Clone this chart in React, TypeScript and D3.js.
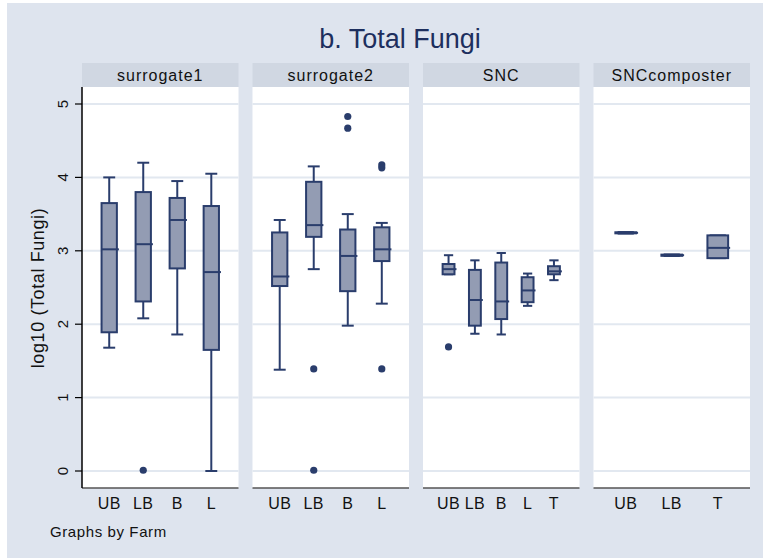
import React from 'react'
import * as d3 from 'd3'

// farms (panels) and groups within each
const farms = ['surrogate1', 'surrogate2', 'SNC', 'SNCcomposter']
const groups = [
  ['UB', 'LB', 'B', 'L'],
  ['UB', 'LB', 'B', 'L'],
  ['UB', 'LB', 'B', 'L', 'T'],
  ['UB', 'LB', 'T'],
]

// box stats per farm: [lowWhisker, q1, median, q3, highWhisker]
const surrogate1Stats = [
  [1.68, 1.89, 3.02, 3.65, 4.0],
  [2.08, 2.31, 3.09, 3.8, 4.2],
  [1.86, 2.76, 3.42, 3.72, 3.95],
  [0.0, 1.65, 2.71, 3.61, 4.05],
]
const surrogate2Stats = [
  [1.38, 2.52, 2.65, 3.25, 3.42],
  [2.75, 3.19, 3.35, 3.94, 4.15],
  [1.98, 2.45, 2.93, 3.29, 3.5],
  [2.28, 2.86, 3.02, 3.32, 3.38],
]
const sncStats = [
  [2.68, 2.68, 2.75, 2.82, 2.94],
  [1.87, 1.98, 2.33, 2.74, 2.87],
  [1.86, 2.07, 2.31, 2.84, 2.97],
  [2.25, 2.3, 2.46, 2.64, 2.69],
  [2.6, 2.68, 2.72, 2.79, 2.87],
]
const composterStats = [
  [3.235, 3.238, 3.245, 3.252, 3.255],
  [2.93, 2.932, 2.94, 2.948, 2.95],
  [2.9, 2.9, 3.04, 3.21, 3.21],
]
const stats = [surrogate1Stats, surrogate2Stats, sncStats, composterStats]

// outside values: [groupIndex, value]
const surrogate1Outliers = [[1, 0.01]]
const surrogate2Outliers = [[1, 1.39], [1, 0.01], [2, 4.83], [2, 4.67], [3, 4.17], [3, 4.13], [3, 1.39]]
const sncOutliers = [[0, 1.69]]
const composterOutliers: number[][] = []
const outliers = [surrogate1Outliers, surrogate2Outliers, sncOutliers, composterOutliers]

const yTicks = [0, 1, 2, 3, 4, 5]

const W = 765, H = 558
const navy = '#2a3d6c'
const boxFill = '#939cb3'
const font = 'Liberation Sans, Arial, sans-serif'

export default function App() {
  const plotTop = 87, plotBottom = 488, headTop = 63
  const panel = d3.scaleBand<string>().domain(farms).range([82, 750]).paddingInner(0.082)
  const y = d3.scaleLinear().domain([0, 5]).range([471, 104])
  const pads = [0.8, 0.8, 0.97, 0.7]

  return (
    <svg width={W} height={H} style={{ position: 'absolute', left: 0, top: 0 }} fontFamily={font}>
      <rect x={0} y={0} width={W} height={H} fill="#fff" />
      <rect x={7} y={3} width={756} height={555} fill="#dee4ee" />
      <text x={400} y={48} textAnchor="middle" fontSize={27} fill="#1d2f5e">b. Total Fungi</text>

      {farms.map((f, pi) => {
        const x0 = panel(f)!
        const bw = panel.bandwidth()
        const x = d3.scalePoint<string>().domain(groups[pi]).range([x0, x0 + bw]).padding(pads[pi])
        const boxW = x.step() * 0.45
        return (
          <g key={f}>
            <rect x={x0} y={headTop} width={bw} height={plotTop - headTop} fill="#d0d7e2" />
            <text x={x0 + bw / 2} y={81} textAnchor="middle" fontSize={16} letterSpacing={1} fill="#111">{f}</text>
            <rect x={x0} y={plotTop} width={bw} height={plotBottom - plotTop} fill="#fff" />
            {yTicks.map(t => (
              <line key={t} x1={x0} x2={x0 + bw} y1={y(t)} y2={y(t)} stroke="#e2e8f0" strokeWidth={2} />
            ))}
            {stats[pi].map((s, gi) => {
              const cx = x(groups[pi][gi])!
              const [lo, q1, med, q3, hi] = s
              const cap = boxW * 0.78
              return (
                <g key={gi} stroke={navy} strokeWidth={2}>
                  <line x1={cx} x2={cx} y1={y(hi)} y2={y(q3)} />
                  <line x1={cx} x2={cx} y1={y(q1)} y2={y(lo)} />
                  <line x1={cx - cap / 2} x2={cx + cap / 2} y1={y(hi)} y2={y(hi)} />
                  <line x1={cx - cap / 2} x2={cx + cap / 2} y1={y(lo)} y2={y(lo)} />
                  <rect x={cx - boxW / 2} y={y(q3)} width={boxW} height={Math.max(y(q1) - y(q3), 0.5)} fill={boxFill} />
                  <line x1={cx - boxW / 2} x2={cx + boxW / 2 + 2} y1={y(med)} y2={y(med)} />
                </g>
              )
            })}
            {outliers[pi].map(([gi, v], i) => (
              <circle key={i} cx={x(groups[pi][gi])!} cy={y(v)} r={3.6} fill={navy} />
            ))}
            <line x1={x0} x2={x0 + bw} y1={plotBottom} y2={plotBottom} stroke="#555" strokeWidth={1.5} />
            {groups[pi].map(g => (
              <text key={g} x={x(g)!} y={509} textAnchor="middle" fontSize={16} letterSpacing={0.4} fill="#111">{g}</text>
            ))}
          </g>
        )
      })}

      {/* y axis on the first panel */}
      <line x1={82} x2={82} y1={plotTop} y2={plotBottom} stroke="#000" strokeWidth={1.5} />
      {yTicks.map(t => (
        <g key={t}>
          <line x1={75} x2={82} y1={y(t)} y2={y(t)} stroke="#000" strokeWidth={1.2} />
          <text transform={`translate(68,${y(t)}) rotate(-90)`} textAnchor="middle" fontSize={15} fill="#111">{t}</text>
        </g>
      ))}
      <text transform={`translate(44,288) rotate(-90)`} textAnchor="middle" fontSize={18} letterSpacing={0.6} fill="#111">log10 (Total Fungi)</text>
      <text x={50} y={537} fontSize={15} letterSpacing={0.6} fill="#111">Graphs by Farm</text>
    </svg>
  )
}
